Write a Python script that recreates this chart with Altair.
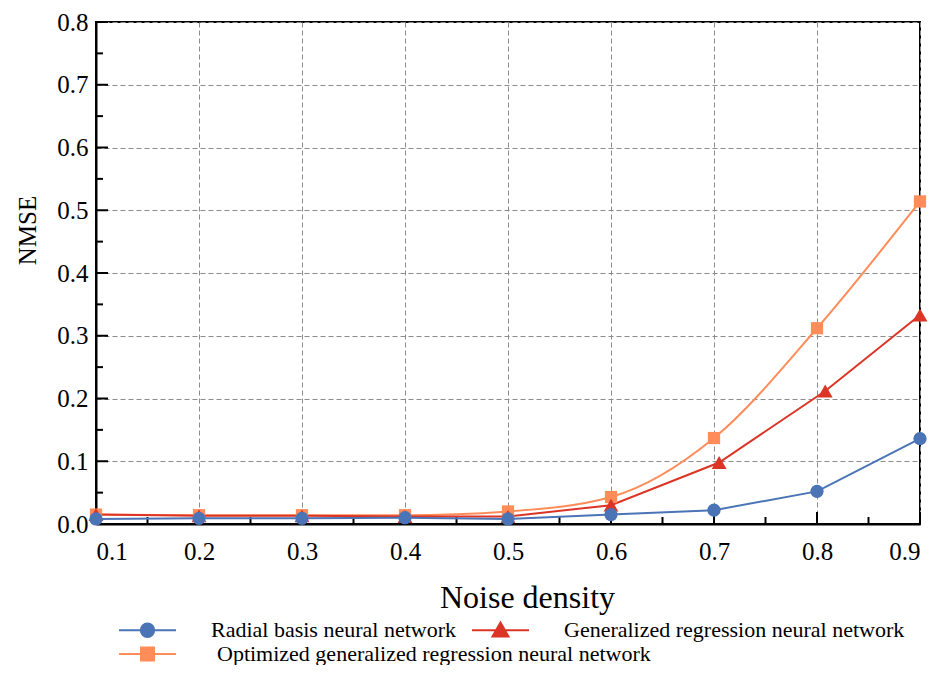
import altair as alt
import pandas as pd

# ---- data ----
noise = [0.1, 0.2, 0.3, 0.4, 0.5, 0.6, 0.7, 0.8, 0.9]
rbf = [0.008, 0.009, 0.009, 0.010, 0.008, 0.015, 0.022, 0.052, 0.136]
grnn_x = [0.1, 0.2, 0.3, 0.4, 0.5, 0.6, 0.705, 0.808, 0.9]
grnn = [0.015, 0.013, 0.013, 0.012, 0.012, 0.030, 0.098, 0.212, 0.333]
ogrnn = [0.015, 0.014, 0.014, 0.014, 0.020, 0.043, 0.137, 0.312, 0.514]

series_names = [
    "Radial basis neural network",
    "Generalized regression neural network",
    "Optimized generalized regression neural network",
]
colors = ["#4a74b6", "#dc3425", "#ff8c59"]

x_ticks = [0.1, 0.2, 0.3, 0.4, 0.5, 0.6, 0.7, 0.8, 0.9]
x_minor = [0.15, 0.25, 0.35, 0.45, 0.55, 0.65, 0.75, 0.85]
y_ticks = [0.0, 0.1, 0.2, 0.3, 0.4, 0.5, 0.6, 0.7, 0.8]
y_minor = [0.05, 0.15, 0.25, 0.35, 0.45, 0.55, 0.65, 0.75]

W, H = 824, 502
FONT = "Liberation Serif"

xscale = alt.Scale(domain=[0.1, 0.9], nice=False, zero=False)
yscale = alt.Scale(domain=[0.0, 0.8], nice=False)

xaxis = alt.Axis(
    title="Noise density", values=x_ticks, format=".1f", ticks=False,
    labelPadding=15, titleX=431, titleY=83, titleBaseline="alphabetic",
    titleAlign="center",
)
yaxis = alt.Axis(
    title="NMSE", values=y_ticks, format=".1f", ticks=False,
    labelPadding=8, titleX=-61, titleY=208, titleBaseline="alphabetic",
    titleAlign="center", titleAngle=-90,
)

X = alt.X("x:Q", scale=xscale, axis=xaxis)
Y = alt.Y("y:Q", scale=yscale, axis=yaxis)

df_rbf = pd.DataFrame({"x": noise, "y": rbf})
df_grnn = pd.DataFrame({"x": grnn_x, "y": grnn})
df_og = pd.DataFrame({"x": noise, "y": ogrnn})


def series(df, color, shape, size, interp):
    line = alt.Chart(df).mark_line(color=color, strokeWidth=2, interpolate=interp).encode(x=X, y=Y)
    pts = alt.Chart(df).mark_point(filled=True, color=color, shape=shape, size=size, opacity=1).encode(x=X, y=Y)
    return line, pts


l_og, p_og = series(df_og, colors[2], "square", 150, "monotone")
l_gr, p_gr = series(df_grnn, colors[1], "triangle-up", 220, "linear")
l_rb, p_rb = series(df_rbf, colors[0], "circle", 175, "linear")

# inward ticks
xt_major = alt.Chart(pd.DataFrame({"x": x_ticks})).mark_rule(color="black", strokeWidth=2).encode(
    x=X, y=alt.value(H), y2=alt.value(H - 12))
xt_minor = alt.Chart(pd.DataFrame({"x": x_minor})).mark_rule(color="black", strokeWidth=2).encode(
    x=X, y=alt.value(H), y2=alt.value(H - 7))
yt_major = alt.Chart(pd.DataFrame({"y": y_ticks})).mark_rule(color="black", strokeWidth=2).encode(
    y=Y, x=alt.value(0), x2=alt.value(12))
yt_minor = alt.Chart(pd.DataFrame({"y": y_minor})).mark_rule(color="black", strokeWidth=2).encode(
    y=Y, x=alt.value(0), x2=alt.value(7))

# legend symbols: a line with the marker on it
leg_shapes = [
    "M-1,0H1M-0.235,0A0.235,0.235,0,1,0,0.235,0A0.235,0.235,0,1,0,-0.235,0Z",
    "M-1,0H1M0,-0.27L0.28,0.22H-0.28Z",
    "M-1,0H1M-0.228,-0.228H0.228V0.228H-0.228Z",
]
SYM = 3249


def legend_layer(names, cols, shapes, lx, ly, loff):
    lg = alt.Legend(
        title=None, orient="none", legendX=lx, legendY=ly, direction="horizontal",
        labelFont=FONT, labelFontSize=22, labelColor="black", labelLimit=600,
        labelOffset=loff, columnPadding=12, padding=0,
        symbolSize=SYM, symbolStrokeWidth=2, symbolOpacity=1,
    )
    d = pd.DataFrame({"x": [0.5] * len(names), "y": [0.5] * len(names), "s": names})
    return alt.Chart(d).transform_filter("false").mark_point(
        filled=True, size=SYM, strokeWidth=2, opacity=1).encode(
        x=X, y=Y,
        fill=alt.Fill("s:N", scale=alt.Scale(domain=names, range=cols), legend=lg, sort=names),
        stroke=alt.Stroke("s:N", scale=alt.Scale(domain=names, range=cols), legend=lg, sort=names),
        shape=alt.Shape("s:N", scale=alt.Scale(domain=names, range=shapes), legend=lg, sort=names),
    )


leg_a = legend_layer(series_names[:2], colors[:2], leg_shapes[:2], 22, 578.5, 34)
leg_b = legend_layer(series_names[2:], colors[2:], leg_shapes[2:], 22, 602.5, 40)

chart = alt.layer(
    xt_major, xt_minor, yt_major, yt_minor,
    l_og, l_gr, l_rb, p_og, p_gr, p_rb, leg_a, leg_b,
).resolve_scale(
    fill="independent", stroke="independent", shape="independent"
).properties(
    width=W, height=H,
    autosize=alt.AutoSizeParams(type="none"),
    padding={"left": 88, "top": 14, "right": 16, "bottom": 141},
).configure_view(
    stroke="black", strokeWidth=2
).configure_axis(
    labelFont=FONT, labelFontSize=25, labelColor="black",
    titleFont=FONT, titleFontWeight="normal", titleColor="black",
    domainColor="black", domainWidth=2,
    grid=True, gridColor="#8c8c8c", gridDash=[5, 3], gridWidth=1,
).configure_axisX(titleFontSize=32).configure_axisY(titleFontSize=25)

chart.save("out.html", embed_options={"renderer": "svg", "actions": False})
